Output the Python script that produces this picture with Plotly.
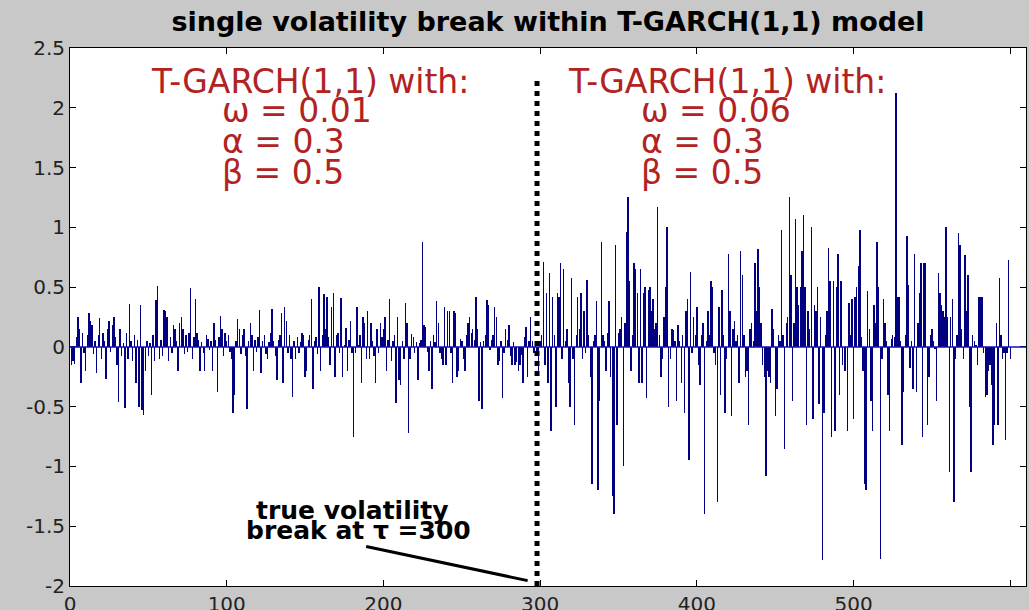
import plotly.graph_objects as go

# ---- data ----
t_index = list(range(1, 601))

returns_001_100 = [
    -0.15, -0.12, -0.14, 0.08, 0.25, 0.15, -0.30, 0.12, -0.05, -0.20,
    0.10, 0.28, 0.22, 0.18, -0.06, 0.05, -0.22, 0.10, 0.24, -0.10,
    0.12, 0.05, -0.27, 0.15, 0.22, -0.04, 0.18, 0.25, 0.08, -0.15,
    -0.46, 0.15, -0.08, 0.03, -0.51, 0.12, -0.10, 0.36, 0.05, -0.12,
    0.10, -0.30, 0.06, -0.50, 0.35, -0.53, -0.57, -0.20, 0.05, -0.08,
    0.03, -0.40, 0.10, -0.12, 0.39, 0.51, -0.10, 0.06, -0.08, 0.31,
    0.30, 0.25, -0.12, 0.08, -0.05, 0.18, 0.15, 0.05, -0.20, 0.20,
    0.25, 0.15, -0.06, 0.10, -0.04, 0.12, 0.49, -0.10, 0.08, 0.40,
    0.12, 0.06, -0.20, 0.04, -0.05, -0.20, 0.10, 0.07, -0.03, 0.05,
    -0.20, 0.20, 0.06, -0.38, 0.08, 0.26, 0.15, -0.08, 0.12, 0.05,
]
returns_101_200 = [
    0.10, -0.04, -0.10, -0.55, -0.40, 0.05, 0.23, 0.15, -0.06, 0.10,
    0.15, -0.08, -0.52, 0.05, 0.20, 0.10, -0.20, 0.06, -0.04, 0.08,
    0.31, -0.22, 0.05, 0.10, -0.06, -0.10, 0.04, 0.12, 0.32, 0.05,
    -0.08, -0.28, 0.06, 0.10, 0.28, -0.30, 0.33, 0.22, -0.05, 0.10,
    -0.10, -0.42, 0.05, -0.10, 0.08, -0.05, 0.04, 0.12, 0.10, -0.25,
    -0.20, 0.06, 0.10, 0.40, -0.35, 0.05, 0.08, -0.06, 0.50, -0.20,
    0.10, 0.44, 0.15, 0.42, 0.08, -0.15, 0.33, 0.45, -0.25, 0.10,
    0.12, -0.05, 0.41, -0.25, 0.02, 0.16, -0.20, 0.06, 0.22, -0.05,
    -0.75, -0.05, 0.33, 0.02, 0.10, -0.30, 0.25, 0.20, -0.10, 0.30,
    -0.10, 0.20, 0.05, -0.08, -0.30, 0.15, -0.05, 0.20, 0.08, 0.15,
]
returns_201_300 = [
    0.25, -0.20, 0.06, 0.40, -0.12, 0.05, 0.10, -0.47, 0.25, -0.28,
    -0.32, 0.05, -0.10, 0.37, 0.20, -0.72, -0.10, 0.11, 0.08, -0.05,
    0.04, -0.28, 0.03, 0.06, 0.88, 0.18, 0.17, -0.04, -0.20, 0.05,
    -0.35, 0.10, 0.04, 0.38, 0.20, -0.05, -0.10, -0.15, 0.33, -0.15,
    0.30, 0.30, -0.05, -0.30, 0.30, 0.28, -0.25, -0.20, 0.07, 0.05,
    -0.10, -0.20, 0.10, 0.20, 0.25, 0.12, 0.15, 0.06, 0.42, 0.15,
    -0.45, 0.04, -0.52, 0.05, 0.10, 0.39, 0.35, -0.03, 0.06, 0.10,
    0.33, 0.25, -0.15, -0.12, 0.05, -0.43, -0.05, 0.15, 0.06, 0.18,
    -0.08, -0.15, 0.04, -0.15, -0.13, -0.20, -0.15, -0.07, -0.30, 0.08,
    0.17, -0.25, 0.05, 0.25, 0.05, -0.05, 0.03, -0.06, -0.20, 0.05,
]
returns_301_400 = [
    0.10, 0.71, -0.15, 0.45, -0.30, 0.62, -0.70, 0.42, 0.10, -0.50,
    0.45, 0.42, 0.70, -0.10, 0.65, 0.05, 0.15, -0.30, -0.50, 0.58,
    -0.10, -0.65, 0.10, 0.42, 0.15, 0.45, -0.10, 0.30, -0.05, 0.56,
    0.10, -0.25, -1.15, 0.05, 0.10, 0.38, -1.20, -0.45, 0.88, 0.10,
    0.05, -0.20, 0.12, 0.38, -0.25, -1.25, -1.40, 0.85, -0.65, 0.12,
    0.15, 0.25, -1.00, 0.20, 0.96, 1.25, 0.55, -0.20, 0.10, 0.70,
    0.65, 0.45, -0.30, 0.65, -0.30, 0.45, 0.50, -0.43, 0.48, 0.50,
    0.30, 0.40, 0.15, 0.20, 1.17, 0.10, -0.25, -0.10, 0.25, 0.50,
    1.00, -0.50, -0.10, 0.15, 0.14, 0.05, -0.45, 0.18, 0.05, -0.30,
    0.10, -0.55, 0.30, 0.40, -0.95, 0.63, -0.05, 0.25, 0.10, 0.33,
]
returns_401_500 = [
    -0.15, -0.32, 0.10, 0.20, -1.40, 0.05, 0.30, 0.10, 0.55, 0.50,
    -0.05, -0.15, -1.30, 0.33, -0.40, 0.48, 0.10, -0.55, -0.10, 0.78,
    0.30, -0.58, 0.15, 0.22, 0.05, 0.10, -0.30, 0.80, 0.60, 0.10,
    -0.25, -0.20, -0.65, 0.15, 0.20, 0.05, 0.70, 0.30, 0.82, 0.50,
    0.20, -0.15, -0.25, -1.08, -0.20, -0.25, -0.30, 0.32, 0.15, -0.58,
    -0.35, 0.10, 0.05, 0.98, 0.10, -0.85, 0.20, 0.25, 1.25, 0.60,
    -0.45, 0.20, 1.07, 0.50, 0.35, 0.50, 0.80, 1.10, 0.50, -0.65,
    0.30, 0.15, 1.00, -0.60, 0.35, 0.30, 0.50, -0.48, 0.25, -1.78,
    -0.55, 0.10, 0.30, 0.83, 0.55, -0.75, 0.55, -0.70, 0.50, 0.78,
    -0.40, 0.55, -0.15, -0.20, -0.20, -0.70, 0.37, 0.10, 0.40, -0.60,
]
returns_501_600 = [
    0.42, 0.50, 0.68, 0.98, 0.08, -0.20, -1.15, -1.20, 0.47, 0.15,
    -0.45, -0.70, 0.35, 0.20, 0.88, 0.50, -1.77, -0.10, 0.40, 0.20,
    0.05, -0.40, -0.70, 0.07, 0.10, 0.08, 2.12, 0.42, 0.42, 0.05,
    -0.82, -0.38, 0.10, 0.93, 0.52, -0.18, 0.05, -0.35, 0.78, -0.38,
    0.20, 0.45, 0.70, -0.75, 0.70, 0.70, -0.65, -0.25, 0.10, 0.15,
    0.05, -0.02, -0.45, 0.62, 0.45, 0.35, 0.30, 0.25, 1.00, 0.25,
    -1.05, 0.25, 0.40, -1.30, -0.10, 0.10, 0.95, 0.85, 0.15, -0.10,
    0.77, 0.30, 0.60, -0.50, -1.05, 0.10, 0.05, 0.02, -0.15, 0.42,
    0.42, 0.42, -0.05, -0.42, -0.40, -0.20, -0.15, -0.32, -0.82, -0.65,
    0.20, -0.65, 0.58, 0.10, -0.10, -0.05, -0.78, -0.05, 0.73, -0.10,
]
returns = (returns_001_100 + returns_101_200 + returns_201_300
           + returns_301_400 + returns_401_500 + returns_501_600)

break_point = 298
x_tick_vals = [0, 100, 200, 300, 400, 500, 600]
y_tick_vals = [-2, -1.5, -1, -0.5, 0, 0.5, 1, 1.5, 2, 2.5]
y_tick_text = ["-2", "-1.5", "-1", "-0.5", "0", "0.5", "1", "1.5", "2", "2.5"]

title_text = "single volatility break within T-GARCH(1,1) model"
left_block = ["T-GARCH(1,1) with:", "\u03c9 = 0.01", "\u03b1 = 0.3", "\u03b2 = 0.5"]
right_block = ["T-GARCH(1,1) with:", "\u03c9 = 0.06", "\u03b1 = 0.3", "\u03b2 = 0.5"]
break_label = ["true volatility", "break at \u03c4 =300"]

# ---- figure ----
fig = go.Figure()
fig.add_trace(go.Bar(
    x=t_index, y=returns, width=0.9,
    marker=dict(color="#000080", line=dict(width=0)),
    showlegend=False, hoverinfo="x+y",
))

fig.add_shape(type="line", xref="x", yref="y", x0=0, x1=610, y0=0, y1=0,
              line=dict(color="#1010b0", width=1.5))
fig.add_shape(type="line", xref="x", yref="y", x0=break_point, x1=break_point,
              y0=-2, y1=2.25, line=dict(color="black", width=5, dash="dot"))
fig.add_shape(type="line", xref="x", yref="y", x0=189, x1=292, y0=-1.67, y1=-1.955,
              line=dict(color="black", width=3))

red = "#b22222"
red_font = dict(family="DejaVu Sans", size=33, color=red)
line_y = [2.22, 1.98, 1.72, 1.46]

fig.add_annotation(x=153, y=line_y[0], text=left_block[0], showarrow=False,
                   xanchor="center", yanchor="middle", font=red_font)
fig.add_annotation(x=419, y=line_y[0], text=right_block[0], showarrow=False,
                   xanchor="center", yanchor="middle", font=red_font)
for i in range(1, 4):
    fig.add_annotation(x=96, y=line_y[i], text=left_block[i], showarrow=False,
                       xanchor="left", yanchor="middle", font=red_font)
    fig.add_annotation(x=363, y=line_y[i], text=right_block[i], showarrow=False,
                       xanchor="left", yanchor="middle", font=red_font)

bold_font = dict(family="DejaVu Sans", size=25, color="black")
fig.add_annotation(x=180, y=-1.37, text="<b>" + break_label[0] + "</b>", showarrow=False,
                   xanchor="center", yanchor="middle", font=bold_font)
fig.add_annotation(x=184, y=-1.535, text="<b>" + break_label[1] + "</b>", showarrow=False,
                   xanchor="center", yanchor="middle", font=bold_font)

tick_font = dict(family="DejaVu Sans", size=20, color="#222222")
fig.update_layout(
    width=1029, height=610,
    margin=dict(l=70, r=3, t=48, b=24, autoexpand=False),
    paper_bgcolor="#c8c8c8", plot_bgcolor="white",
    title=dict(text="<b>" + title_text + "</b>", x=0.5, xref="paper",
               y=1 - 22 / 610, yref="container", xanchor="center", yanchor="middle",
               font=dict(family="DejaVu Sans", size=27, color="black")),
    xaxis=dict(range=[0, 610], tickvals=x_tick_vals, ticks="inside", ticklen=6,
               tickcolor="black", showline=True, linecolor="black", linewidth=1,
               mirror="ticks", showgrid=False, zeroline=False, tickfont=tick_font),
    yaxis=dict(range=[-2, 2.5], tickvals=y_tick_vals, ticktext=y_tick_text,
               ticks="inside", ticklen=6, tickcolor="black", showline=True,
               linecolor="black", linewidth=1, mirror="ticks", showgrid=False,
               zeroline=False, tickfont=tick_font),
    bargap=0,
)

fig.write_html(
    "out.html",
    config={"displayModeBar": False, "staticPlot": True},
    post_script="document.body.style.margin='0px';"
                "document.body.style.overflow='hidden';"
                "document.body.style.background='#c8c8c8';",
)
